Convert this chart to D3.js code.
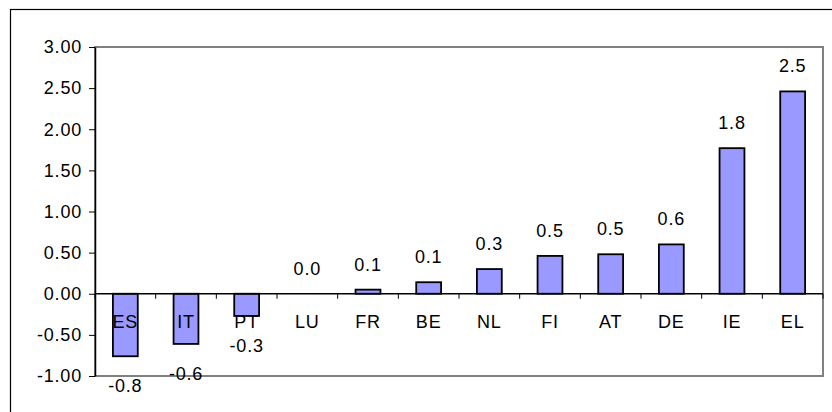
<!DOCTYPE html>
<html>
<head>
<meta charset="utf-8">
<script src="https://cdn.jsdelivr.net/npm/d3@7"></script>
<style>
body{margin:0;background:#fff;}
svg text{font-family:Arial,"Liberation Sans",sans-serif;font-size:18px;letter-spacing:0.8px;fill:#000;}
</style>
</head>
<body>
<svg id="screen" width="832" height="412"></svg>
<script>
// countries and values
var countries=["ES","IT","PT","LU","FR","BE","NL","FI","AT","DE","IE","EL"];
var values=[-0.76,-0.61,-0.27,0.0,0.05,0.14,0.30,0.46,0.48,0.60,1.77,2.46];
var yTicks=[-1,-0.5,0,0.5,1,1.5,2,2.5,3];

var svg=d3.select("#screen");
var plotL=95, plotR=823, plotT=47, plotB=376;

// outer chart frame
svg.append("rect").attr("x",10.5).attr("y",9.5).attr("width",830).attr("height",420)
    .attr("fill","none").attr("stroke","#000").attr("stroke-width",1.2);

var x=d3.scaleBand().domain(countries).range([plotL,plotR]).paddingInner(0.59).paddingOuter(0.295);
var y=d3.scaleLinear().domain([-1,3]).range([plotB,plotT]);

// plot area border (grey)
svg.append("rect").attr("x",plotL).attr("y",plotT).attr("width",plotR-plotL).attr("height",plotB-plotT)
    .attr("fill","none").attr("stroke","#808080").attr("stroke-width",2);

// y axis
var yAxis=svg.append("g").attr("transform","translate("+plotL+",0)")
    .call(d3.axisLeft(y).tickValues(yTicks).tickFormat(function(d){return d.toFixed(2);})
        .tickSize(6).tickSizeOuter(0).tickPadding(7));
yAxis.select(".domain").attr("stroke","#000").attr("stroke-width",1.5);
yAxis.selectAll("text").style("font-size","18px").style("font-family","Arial, 'Liberation Sans', sans-serif");

// bars
svg.selectAll("rect.bar").data(values).enter().append("rect").attr("class","bar")
    .attr("x",function(d,i){return x(countries[i]);})
    .attr("width",x.bandwidth())
    .attr("y",function(d){return y(Math.max(0,d));})
    .attr("height",function(d){return Math.abs(y(d)-y(0));})
    .attr("fill","#9999ff").attr("stroke","#000").attr("stroke-width",1.8);

// zero line with category ticks
var xb=d3.scaleLinear().domain([0,countries.length]).range([plotL,plotR]);
svg.append("line").attr("x1",plotL).attr("x2",plotR).attr("y1",y(0)).attr("y2",y(0))
    .attr("stroke","#000").attr("stroke-width",1.3);
svg.selectAll("line.xt").data(d3.range(countries.length+1)).enter().append("line").attr("class","xt")
    .attr("x1",function(d){return xb(d);}).attr("x2",function(d){return xb(d);})
    .attr("y1",y(0)).attr("y2",y(0)+5).attr("stroke","#000").attr("stroke-width",1);

// category labels
svg.selectAll("text.cat").data(countries).enter().append("text").attr("class","cat")
    .attr("x",function(d){return x(d)+x.bandwidth()/2;})
    .attr("y",y(0)+34.5).attr("text-anchor","middle").text(function(d){return d;});

// value labels
svg.selectAll("text.val").data(values).enter().append("text").attr("class","val")
    .attr("x",function(d,i){return x(countries[i])+x.bandwidth()/2;})
    .attr("y",function(d){return d>=0 ? y(d)-19 : y(d)+36;})
    .attr("text-anchor","middle").text(function(d){return d.toFixed(1);});
</script>
</body>
</html>
